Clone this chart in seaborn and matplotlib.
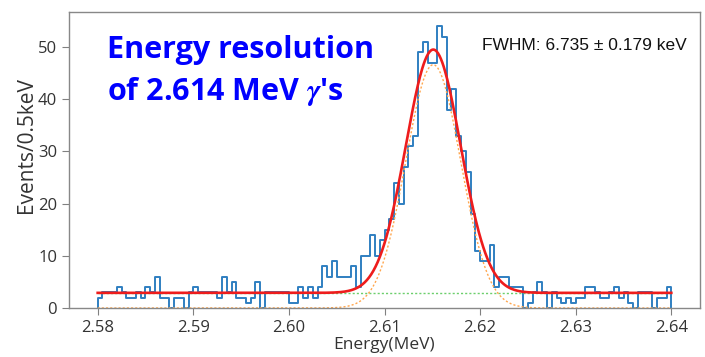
import numpy as np
import pandas as pd
import matplotlib
matplotlib.use("Agg")
import matplotlib.pyplot as plt
import seaborn as sns

# ---- data ----
bin_lo = 2.58          # MeV
bin_hi = 2.64          # MeV
n_bins = 120           # 0.5 keV bins
counts = [
    2, 3, 3, 3, 4, 3, 2, 2, 3, 2,
    4, 3, 6, 2, 2, 0, 2, 2, 0, 3,
    4, 3, 3, 3, 3, 2, 6, 3, 5, 2,
    2, 1, 2, 5, 0, 3, 3, 3, 3, 3,
    1, 1, 4, 2, 4, 2, 4, 8, 6, 9,
    6, 6, 6, 8, 4, 10, 10, 14, 10, 13,
    15, 17, 24, 20, 27, 31, 33, 49, 51, 47,
    47, 54, 52, 38, 42, 33, 30, 26, 18, 11,
    9, 9, 12, 4, 6, 6, 4, 4, 4, 0,
    1, 3, 5, 3, 0, 3, 2, 1, 2, 1,
    2, 2, 4, 4, 3, 2, 2, 3, 4, 2,
    3, 1, 0, 3, 3, 3, 0, 2, 2, 4,
]
fit_mean = 2.6151              # MeV
fit_fwhm_kev = 6.735
fit_amp = 46.6
fit_bg = 2.9
x_ticks = [2.58, 2.59, 2.60, 2.61, 2.62, 2.63, 2.64]
y_ticks = [0, 10, 20, 30, 40, 50]
fwhm_text = "FWHM: 6.735 \u00b1 0.179 keV"
title_text = "Energy resolution\nof 2.614 MeV $\\gamma$\u2032s"

# ---- derived ----
edges = list(np.linspace(bin_lo, bin_hi, n_bins + 1))
centers = [0.5 * (a + b) for a, b in zip(edges[:-1], edges[1:])]
hist_df = pd.DataFrame({"energy": centers, "events": counts})
sigma = fit_fwhm_kev / 1000.0 / (2 * np.sqrt(2 * np.log(2)))
xf = np.linspace(bin_lo, bin_hi, 800)
gauss = fit_amp * np.exp(-0.5 * ((xf - fit_mean) / sigma) ** 2)
bg = np.full_like(xf, fit_bg)
total = gauss + bg

plt.rcParams["mathtext.fontset"] = "custom"
plt.rcParams["mathtext.it"] = "STIXGeneral:italic:bold"
plt.rcParams["mathtext.rm"] = "Open Sans:bold"
plt.rcParams["mathtext.bf"] = "Open Sans:bold"
plt.rcParams["mathtext.fallback"] = "stix"

fig = plt.figure(figsize=(7.05, 3.57), dpi=100)
ax = fig.add_axes([69 / 705, 1 - 308 / 357, (700 - 69) / 705, (308 - 12) / 357])

sns.histplot(data=hist_df, x="energy", weights="events", bins=edges, element="step",
             fill=False, color="#2f7fc1", linewidth=1.4, ax=ax)
# close the outline down to the baseline at both ends (as a step histogram does)
hline = ax.lines[-1]
hx, hy = hline.get_data()
hline.set_data(np.r_[hx[0], hx, hx[-1]], np.r_[0, hy, 0])

sns.lineplot(x=xf, y=bg, color="#6ccf6c", linewidth=1.0, linestyle=(0, (1.5, 1.5)), ax=ax)
sns.lineplot(x=xf, y=gauss, color="#ffa64d", linewidth=1.0, linestyle=(0, (1.5, 1.5)), ax=ax)
sns.lineplot(x=xf, y=total, color="#ee1c1c", linewidth=1.9, ax=ax)

ax.set_xlim(2.577, 2.643)
ax.set_ylim(0, 56.7)
ax.set_xticks(x_ticks)
ax.set_xticklabels([f"{t:.2f}" for t in x_ticks])
ax.set_yticks(y_ticks)
ax.tick_params(labelsize=12, colors="#808080", labelcolor="#333333", length=5)
for lab in ax.get_xticklabels() + ax.get_yticklabels():
    lab.set_family("Open Sans")
for s in ax.spines.values():
    s.set_color("#888888")
    s.set_linewidth(1.0)
ax.set_xlabel("Energy(MeV)", fontsize=12.5, color="#333333", family="Open Sans", labelpad=1)
ax.set_ylabel("Events/0.5keV", fontsize=15, color="#333333", family="Open Sans")
ax.yaxis.set_label_coords((37 - 69) / 631, (308 - 145) / (308 - 12))

fig.text(107 / 705, 1 - 35 / 357, title_text, color="#0000ff", fontsize=22,
         fontweight="bold", family="Open Sans", va="top", ha="left", linespacing=1.4)
fig.text(482 / 705, 1 - 45 / 357, fwhm_text, color="#111111", fontsize=12.5,
         family="Liberation Sans", va="center", ha="left")

fig.savefig("out.png", dpi=100)
